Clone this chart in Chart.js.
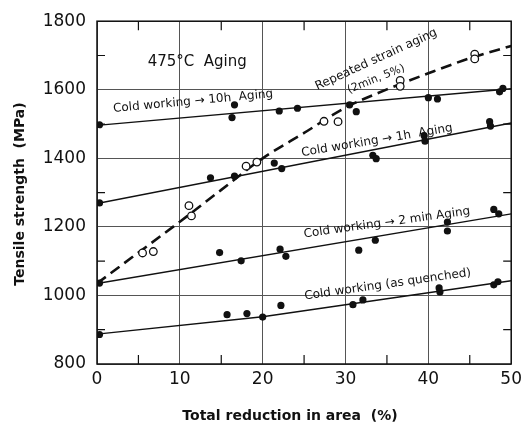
<!DOCTYPE html>
<html>
<head>
<meta charset="utf-8">
<script src="https://cdn.jsdelivr.net/npm/chart.js@4.4.1/dist/chart.umd.min.js"></script>
<style>
  html, body { margin: 0; padding: 0; background: #fff; }
  canvas { display: block; }
</style>
</head>
<body>
<canvas id="agingChart" width="527" height="424"></canvas>
<script>
// values (x: total reduction in area %, y: tensile strength MPa)
const quenchedX = [0.3, 15.7, 18.1, 20.0, 22.2, 30.9, 32.1, 41.3, 41.4, 47.9, 48.4];
const quenchedY = [886, 944, 947, 937, 971, 973, 987, 1022, 1010, 1031, 1040];
const quenchedLineX = [0, 20, 50];
const quenchedLineY = [887, 938, 1043];

const min2X = [0.3, 14.8, 17.4, 22.1, 22.8, 31.6, 33.6, 42.3, 42.3, 47.9, 48.5];
const min2Y = [1036, 1125, 1101, 1135, 1114, 1132, 1161, 1214, 1188, 1251, 1238];
const min2LineX = [0, 50];
const min2LineY = [1035, 1238];

const h1X = [0.3, 13.7, 16.6, 21.4, 22.3, 33.3, 33.7, 39.5, 39.6, 47.4, 47.5];
const h1Y = [1270, 1343, 1348, 1386, 1370, 1409, 1399, 1466, 1450, 1507, 1494];
const h1LineX = [0, 50];
const h1LineY = [1268, 1503];

const h10X = [0.3, 16.6, 16.3, 22.0, 24.2, 30.5, 31.3, 40.0, 41.1, 48.6, 49.0];
const h10Y = [1498, 1556, 1519, 1538, 1546, 1556, 1536, 1577, 1573, 1594, 1604];
const h10LineX = [0, 50];
const h10LineY = [1496, 1603];

const strainX = [5.5, 6.8, 11.1, 11.4, 18.0, 19.3, 27.4, 29.1, 36.6, 36.6, 45.6, 45.6];
const strainY = [1124, 1128, 1262, 1232, 1377, 1389, 1508, 1507, 1627, 1610, 1704, 1690];
const strainCurveX = [0, 5, 10, 15, 20, 25, 30, 35, 40, 45, 50];
const strainCurveY = [1035, 1125, 1215, 1308, 1400, 1474, 1548, 1601, 1648, 1692, 1728];

const xTicks = [0, 10, 20, 30, 40, 50];
const yTicks = [800, 1000, 1200, 1400, 1600, 1800];
const xMinor = [5, 15, 25, 35, 45];
const yMinor = [900, 1100, 1300, 1500, 1700];

const ink = '#111';
const pts = (xs, ys) => xs.map((x, i) => ({ x: x, y: ys[i] }));

function fitLine(xs, ys, extra) {
    return Object.assign({
        data: pts(xs, ys),
        showLine: true,
        borderColor: ink,
        borderWidth: 1.4,
        pointRadius: 0,
        tension: 0,
        order: 2
    }, extra || {});
}

function dots(xs, ys, open) {
    return {
        data: pts(xs, ys),
        showLine: false,
        pointRadius: open ? 3.8 : 3.6,
        pointBackgroundColor: open ? '#fff' : ink,
        pointBorderColor: ink,
        pointBorderWidth: open ? 1.3 : 0,
        order: 1
    };
}

// rotated labels, anchored in data coordinates
const notes = [
    { text: '475\u00b0C  Aging', x: 12.1, y: 1681, angle: 0, font: '15px "DejaVu Sans"' },
    { text: 'Cold working \u2192 10h  Aging', x: 11.6, y: 1566, angle: -5.4, font: '12px "DejaVu Sans"' },
    { text: 'Cold working \u2192 1h  Aging', x: 33.8, y: 1452, angle: -9.5, font: '12px "DejaVu Sans"' },
    { text: 'Repeated strain aging', x: 33.7, y: 1688, angle: -24.5, font: '12px "DejaVu Sans"' },
    { text: '(2min, 5%)', x: 33.7, y: 1631, angle: -22, font: '11px "DejaVu Sans"' },
    { text: 'Cold working \u2192 2 min Aging', x: 35.0, y: 1212, angle: -7.9, font: '12px "DejaVu Sans"' },
    { text: 'Cold working (as quenched)', x: 35.1, y: 1032, angle: -8.1, font: '12px "DejaVu Sans"' }
];

const decorPlugin = {
    id: 'decor',
    afterDraw(chart) {
        const { ctx, chartArea: a, scales: { x, y } } = chart;
        ctx.save();
        // frame
        ctx.strokeStyle = ink;
        ctx.lineWidth = 1.5;
        ctx.strokeRect(a.left, a.top, a.right - a.left, a.bottom - a.top);
        // inward minor ticks
        ctx.lineWidth = 1.2;
        ctx.beginPath();
        xMinor.forEach(v => {
            const px = x.getPixelForValue(v);
            ctx.moveTo(px, a.bottom); ctx.lineTo(px, a.bottom - 9);
            ctx.moveTo(px, a.top); ctx.lineTo(px, a.top + 9);
        });
        yMinor.forEach(v => {
            const py = y.getPixelForValue(v);
            ctx.moveTo(a.left, py); ctx.lineTo(a.left + 8, py);
            ctx.moveTo(a.right, py); ctx.lineTo(a.right - 8, py);
        });
        ctx.stroke();

        // annotations
        ctx.fillStyle = ink;
        ctx.textAlign = 'center';
        ctx.textBaseline = 'middle';
        notes.forEach(n => {
            ctx.save();
            ctx.translate(x.getPixelForValue(n.x), y.getPixelForValue(n.y));
            ctx.rotate(n.angle * Math.PI / 180);
            ctx.font = n.font;
            ctx.fillText(n.text, 0, 0);
            ctx.restore();
        });

        // axis titles
        ctx.font = 'bold 14px "DejaVu Sans"';
        ctx.fillText('Total reduction in area  (%)', 290, 416);
        ctx.save();
        ctx.translate(20, 194);
        ctx.rotate(-Math.PI / 2);
        ctx.fillText('Tensile strength  (MPa)', 0, 0);
        ctx.restore();
        ctx.restore();
    }
};

const ctx = document.getElementById('agingChart').getContext('2d');
new Chart(ctx, {
    type: 'scatter',
    data: {
        datasets: [
            dots(quenchedX, quenchedY, false),
            dots(min2X, min2Y, false),
            dots(h1X, h1Y, false),
            dots(h10X, h10Y, false),
            dots(strainX, strainY, true),
            fitLine(quenchedLineX, quenchedLineY),
            fitLine(min2LineX, min2LineY),
            fitLine(h1LineX, h1LineY),
            fitLine(h10LineX, h10LineY),
            fitLine(strainCurveX, strainCurveY, { borderWidth: 2.6, borderDash: [11, 6], tension: 0.3, cubicInterpolationMode: 'monotone' })
        ]
    },
    options: {
        responsive: false,
        animation: false,
        layout: { padding: { top: 19, right: 10, left: 0, bottom: 0 } },
        plugins: { legend: { display: false }, tooltip: { enabled: false } },
        scales: {
            x: {
                type: 'linear',
                min: 0,
                max: 50,
                afterBuildTicks: s => { s.ticks = xTicks.map(v => ({ value: v })); },
                afterFit: s => { s.height = 60; },
                ticks: { color: ink, padding: 5, font: { family: 'DejaVu Sans', size: 17 }, callback: v => String(v) },
                grid: { color: '#555', lineWidth: 1, drawTicks: false },
                border: { display: false }
            },
            y: {
                type: 'linear',
                min: 800,
                max: 1800,
                afterBuildTicks: s => { s.ticks = yTicks.map(v => ({ value: v })); },
                afterFit: s => { s.width = 97; },
                ticks: { color: ink, padding: 11, font: { family: 'DejaVu Sans', size: 17 }, callback: v => String(v) },
                grid: { color: '#555', lineWidth: 1, drawTicks: false },
                border: { display: false }
            }
        }
    },
    plugins: [decorPlugin]
});
</script>
</body>
</html>
